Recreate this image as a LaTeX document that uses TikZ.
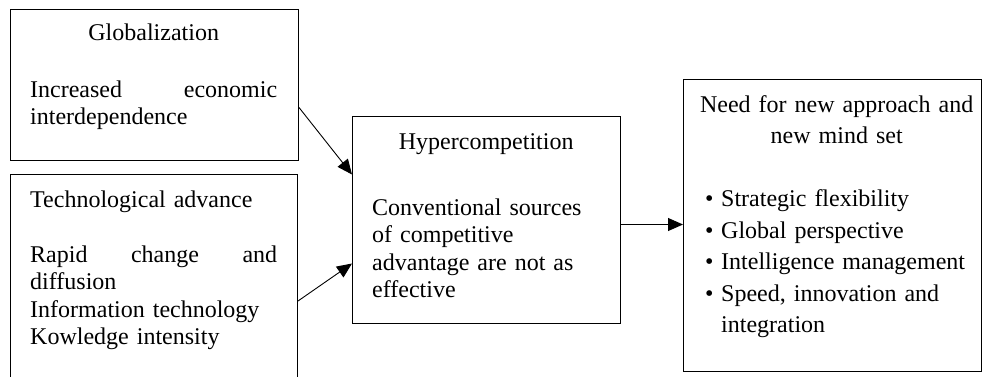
\documentclass[tikz,border=0pt]{standalone}
\usepackage{fontspec}
\setmainfont{Liberation Serif}
\usetikzlibrary{arrows.meta,positioning}

\newcommand{\boxfont}{\fontsize{24}{27.5}\selectfont}
\newcommand{\listfont}{\fontsize{24}{31.5}\selectfont}

\tikzset{
	box/.style={draw, line width=1pt, anchor=north west, inner sep=0pt},
	txt/.style={anchor=north west, inner sep=0pt, align=left, font=\boxfont},
	arr/.style={line width=0.9pt, -{Triangle[length=15pt,width=13pt]}}
}

\begin{document}
\begin{tikzpicture}[x=1pt,y=1pt]
		\useasboundingbox (0,0) rectangle (982,376);
		\clip (0,0) rectangle (982,376);
		
		\node[box, minimum width=288pt, minimum height=151pt] (glob) at (10,367) {};
		\node[box, minimum width=287pt, minimum height=216pt] (tech) at (10,202) {};
		\node[box, minimum width=268pt, minimum height=207pt] (hyper) at (352,260) {};
		\node[box, minimum width=298pt, minimum height=292pt] (need) at (683,297) {};
		
		\node[txt, text width=247pt] (globtxt) at (30,355.25)
			{\strut\makebox[247pt]{Globalization}\\[29.5pt]
			\makebox[247pt][s]{Increased\hfill economic}\\
			interdependence};
		
		\node[txt, text width=247pt] (techtxt) at (30,188.25)
			{\strut Technological advance\\[27.5pt]
			\makebox[247pt][s]{Rapid\hfill change\hfill and}\\
			diffusion\\
			Information technology\\
			Kowledge intensity};
		
		\node[txt, text width=228pt] (hypertxt) at (372,246.25)
			{\strut\makebox[228pt]{Hypercompetition}\\[38.5pt]
			Conventional sources\\
			of competitive\\
			advantage are not as\\
			effective};
		
		\node[txt, text width=263pt, font=\listfont] (needtxt) at (705,286.05)
			{\strut\makebox[263pt]{Need for new approach and}\\
			\makebox[263pt]{new mind set}\\[31.5pt]
			\makebox[16pt][l]{\textbullet}Strategic flexibility\\
			\makebox[16pt][l]{\textbullet}Global perspective\\
			\makebox[16pt][l]{\textbullet}Intelligence management\\
			\makebox[16pt][l]{\textbullet}Speed, innovation and\\
			\hspace*{16pt}integration};
		
		\draw[arr] ([yshift=-22.5pt]glob.east) -- ([yshift=45.5pt]hyper.west);
		\draw[arr] ([yshift=-127pt]tech.north east) -- ([yshift=-43.5pt]hyper.west);
		\draw[arr] ([yshift=-4.5pt]hyper.east) -- ([yshift=-4.5pt]hyper.east -| need.west);
		
	\end{tikzpicture}
\end{document}
